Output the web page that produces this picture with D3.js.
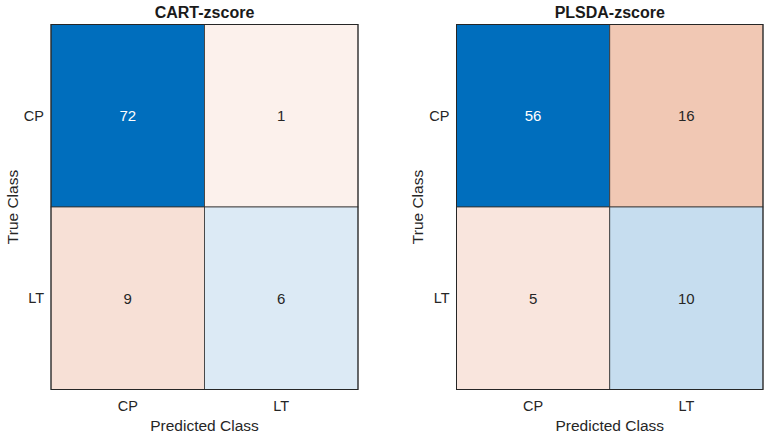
<!DOCTYPE html>
<html><head><meta charset="utf-8">
<script src="https://cdn.jsdelivr.net/npm/d3@7"></script>
<style>body{margin:0;background:#fff}svg{display:block}text{font-family:"Liberation Sans",Arial,sans-serif}</style>
</head><body>
<svg id="c" width="767" height="436"></svg>
<script>
const classes = ["CP", "LT"];
const titles = ["CART-zscore", "PLSDA-zscore"];
const cartValues = [[72, 1], [9, 6]];
const plsdaValues = [[56, 16], [5, 10]];
const cartColors = [["#006EBD", "#FCF1EC"], ["#F7E0D6", "#DCEAF5"]];
const plsdaColors = [["#006EBD", "#F1C8B4"], ["#F9E5DD", "#C6DDEF"]];

const svg = d3.select("#c");
const panels = [
  {title: titles[0], values: cartValues, colors: cartColors, x0: 51, x1: 358},
  {title: titles[1], values: plsdaValues, colors: plsdaColors, x0: 456.5, x1: 763}
];
const y0 = 24.5, y1 = 389.5;

panels.forEach(p => {
  const x = d3.scaleBand().domain(classes).range([p.x0, p.x1]);
  const y = d3.scaleBand().domain(classes).range([y0, y1]);
  const g = svg.append("g");
  const cells = [];
  classes.forEach((t, i) => classes.forEach((pr, j) => cells.push({t, pr, v: p.values[i][j], c: p.colors[i][j]})));
  g.selectAll("rect.cell").data(cells).join("rect")
    .attr("x", d => x(d.pr)).attr("y", d => y(d.t))
    .attr("width", x.bandwidth()).attr("height", y.bandwidth())
    .attr("fill", d => d.c).attr("stroke", "#333").attr("stroke-width", 0.8);
  g.selectAll("text.val").data(cells).join("text")
    .attr("x", d => x(d.pr) + x.bandwidth() / 2).attr("y", d => y(d.t) + y.bandwidth() / 2)
    .attr("text-anchor", "middle").attr("dominant-baseline", "central")
    .attr("font-size", 15).attr("fill", d => d.v === d3.max(p.values.flat()) ? "#fff" : "#262626")
    .text(d => d.v);
  g.append("rect").attr("x", p.x0).attr("y", y0).attr("width", p.x1 - p.x0).attr("height", y1 - y0)
    .attr("fill", "none").attr("stroke", "#262626").attr("stroke-width", 1);
  g.selectAll("text.yt").data(classes).join("text")
    .attr("x", p.x0 - 7).attr("y", d => y(d) + y.bandwidth() / 2)
    .attr("text-anchor", "end").attr("dominant-baseline", "central")
    .attr("font-size", 14.5).attr("fill", "#262626").text(d => d);
  g.selectAll("text.xt").data(classes).join("text")
    .attr("x", d => x(d) + x.bandwidth() / 2).attr("y", y1 + 16)
    .attr("text-anchor", "middle").attr("dominant-baseline", "central")
    .attr("font-size", 14.5).attr("fill", "#262626").text(d => d);
  const cx = (p.x0 + p.x1) / 2;
  g.append("text").attr("x", cx).attr("y", 12).attr("text-anchor", "middle").attr("dominant-baseline", "central")
    .attr("font-size", 16).attr("font-weight", "bold").attr("fill", "#1a1a1a").text(p.title);
  g.append("text").attr("x", cx).attr("y", 425).attr("text-anchor", "middle").attr("dominant-baseline", "central")
    .attr("font-size", 15.5).attr("fill", "#262626").text("Predicted Class");
  g.append("text").attr("transform", `translate(${p.x0 - 39},${(y0 + y1) / 2}) rotate(-90)`)
    .attr("text-anchor", "middle").attr("dominant-baseline", "central")
    .attr("font-size", 15.5).attr("fill", "#262626").text("True Class");
});
</script>
</body></html>
